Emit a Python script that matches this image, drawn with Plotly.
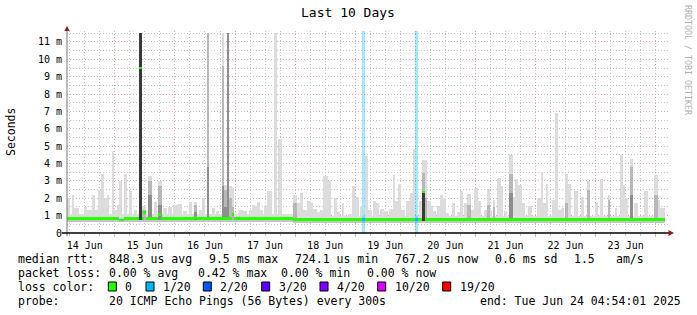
import plotly.graph_objects as go
import pandas as pd

# ---------------- data ----------------
graph_start = pd.Timestamp("2025-06-14 04:54:01")
graph_end = pd.Timestamp("2025-06-24 04:54:01")
y_max_ms = 11.63

# smoke spikes (hours after graph start, values in ms)
spike_start = [0.0, 2.0, 2.8, 6.8, 8.0, 10.0, 11.2, 12.4, 13.6, 14.8, 16.0, 18.0, 18.8, 20.0, 20.8, 22.8, 24.8, 26.8,
               28.8, 30.0, 32.4, 34.8, 36.4, 38.4, 40.4, 42.4, 44.0, 46.4, 48.8, 50.8, 52.8, 54.0, 56.0, 58.0, 59.6,
               61.9, 62.8, 63.9, 64.8, 65.9, 68.4, 70.4, 72.8, 74.0, 75.2, 76.0, 77.2, 78.8, 80.0, 82.8, 84.4,
               90.4, 92.0, 93.2, 94.4, 96.0, 97.2, 98.4, 100.0, 101.2, 102.4, 104.4, 106.8, 108.0, 110.0, 112.4,
               114.0, 115.2, 117.2, 118.8, 120.0, 122.0, 123.2, 124.8, 126.4, 128.4, 130.0, 130.8, 132.0, 133.2,
               135.2, 136.8, 138.0, 140.4, 141.6, 142.8, 143.8, 145.2, 146.0, 147.6, 148.8, 150.0, 151.2, 153.6,
               155.6, 156.8, 158.4, 159.6, 161.2, 162.4, 164.0, 166.4, 167.6, 168.8, 170.0, 171.6, 173.2, 174.4,
               176.4, 178.0, 178.8, 180.0, 181.6, 184.0, 187.6, 189.2, 190.0, 191.2, 193.6, 194.8, 196.0, 197.2,
               198.8, 200.0, 202.4, 205.2, 207.6, 210.8, 212.8, 216.0, 218.8, 220.8, 222.0, 222.8, 224.8, 226.4,
               230.4, 234.4, 236.0, 236.8]
spike_end = [1.0, 2.8, 4.8, 8.0, 10.0, 11.0, 12.4, 13.6, 14.8, 16.0, 16.8, 18.8, 20.0, 20.8, 22.0, 24.0, 26.0, 28.0,
             30.0, 31.6, 34.0, 36.0, 38.0, 40.0, 42.0, 44.0, 46.0, 48.0, 50.0, 52.0, 54.0, 55.2, 56.8, 59.2, 60.8,
             62.8, 63.9, 64.8, 65.9, 66.8, 70.4, 72.0, 74.0, 75.2, 76.0, 77.2, 78.4, 80.0, 82.0, 84.0, 86.0,
             92.0, 93.2, 94.4, 96.0, 97.2, 98.4, 100.0, 101.2, 102.4, 104.4, 105.6, 108.0, 109.2, 110.8, 114.0,
             115.2, 116.8, 118.0, 120.0, 121.6, 123.2, 124.4, 126.4, 128.0, 130.0, 130.8, 132.0, 133.2, 134.8,
             136.8, 138.0, 138.8, 141.6, 142.8, 143.8, 145.2, 146.0, 147.2, 148.8, 150.0, 151.2, 152.4, 154.8,
             156.8, 158.0, 159.6, 161.2, 162.4, 164.0, 165.2, 167.6, 168.8, 169.6, 170.8, 173.2, 174.0, 175.6,
             178.0, 178.8, 180.0, 181.6, 182.8, 185.6, 189.2, 190.0, 191.2, 192.0, 194.8, 196.0, 197.2, 198.4,
             200.0, 201.2, 204.0, 206.4, 208.8, 212.0, 214.0, 216.8, 219.6, 222.0, 222.8, 224.0, 226.0, 228.0,
             232.0, 236.0, 236.8, 238.8]
# outermost (lightest) smoke
spike_max = [2.0, 2.2, 1.45, 1.5, 1.3, 2.2, 1.35, 2.5, 3.37, 2.0, 2.2, 4.7, 1.35, 1.6, 3.0, 3.37, 2.4, 1.35,
             11.5, 1.55, 3.3, 1.8, 3.0, 1.45, 1.5, 1.64, 1.68, 1.25, 1.8, 1.8, 1.35, 2.0, 11.5, 1.45, 1.25,
             11.5, 2.74, 11.5, 2.7, 2.6, 1.34, 1.25, 1.33, 1.62, 1.53, 1.76, 1.33, 1.53, 2.43, 11.5, 5.4,
             2.2, 1.7, 2.3, 1.3, 1.85, 1.75, 1.4, 1.2, 1.33, 3.3, 2.97, 2.0, 1.2, 1.75, 1.1,
             2.68, 2.1, 1.5, 4.44, 1.33, 1.87, 1.7, 1.4, 1.25, 1.4, 3.35, 1.83, 2.85, 1.3,
             1.83, 2.3, 4.85, 1.83, 4.2, 4.2, 1.83, 1.53, 1.25, 1.53, 2.2, 2.0, 1.15, 1.7,
             1.2, 2.4, 1.75, 2.25, 1.3, 2.58, 1.83, 1.3, 2.53, 1.33, 1.92, 3.15, 2.68, 1.25,
             4.5, 2.1, 3.1, 2.78, 1.7, 1.56, 2.0, 3.5, 1.7, 2.85, 1.92, 6.9, 1.33, 1.45,
             3.37, 2.85, 2.4, 2.1, 3.0, 1.7, 3.1, 2.2, 1.45, 4.5, 2.75, 2.0, 4.27, 1.7,
             2.4, 3.35, 1.9, 1.45]
# inner smoke levels (0 = none)
spike_mid = [0, 0, 0, 0, 0, 0, 0, 0, 0, 0, 0, 0, 0, 0, 0, 0, 0, 0,
             0, 1.3, 3.0, 0, 2.7, 0, 0, 0, 0, 0, 0, 1.6, 0, 0, 11.5, 0, 0,
             9.6, 2.5, 11.5, 2.0, 1.5, 0, 0, 0, 0, 0, 0, 0, 0, 0, 0, 0,
             1.7, 0, 0, 0, 0, 0, 0, 0, 0, 0, 0, 0, 0, 0, 0,
             0, 0, 0, 0, 0, 0, 0, 0, 0, 0, 0, 0, 0, 0,
             0, 0, 0, 0, 3.44, 2.0, 0, 0, 0, 0, 0, 0, 0, 0,
             0, 0, 0, 1.6, 0, 0, 0, 0, 1.6, 0, 1.5, 0, 0, 0,
             3.4, 0, 0, 0, 0, 0, 0, 0, 0, 0, 0, 0, 0, 0,
             1.75, 0, 0, 0, 2.5, 0, 0, 1.9, 0, 0, 0, 0, 3.8, 0,
             0, 2.2, 0, 0]
spike_low = [0, 0, 0, 0, 0, 0, 0, 0, 0, 0, 0, 0, 0, 0, 0, 0, 0, 0,
             0, 0, 2.2, 0, 1.6, 0, 0, 0, 0, 0, 0, 1.2, 0, 0, 3.8, 0, 0,
             2.7, 1.5, 11.5, 0, 0, 0, 0, 0, 0, 0, 0, 0, 0, 0, 0, 0,
             0, 0, 0, 0, 0, 0, 0, 0, 0, 0, 0, 0, 0, 0, 0,
             0, 0, 0, 0, 0, 0, 0, 0, 0, 0, 0, 0, 0, 0,
             0, 0, 0, 0, 0, 0, 0, 0, 0, 0, 0, 0, 0, 0,
             0, 0, 0, 0, 0, 0, 0, 0, 0, 0, 0, 0, 0, 0,
             2.3, 0, 0, 0, 0, 0, 0, 0, 0, 0, 0, 0, 0, 0,
             0, 0, 0, 0, 0, 0, 0, 0, 0, 0, 0, 0, 2.2, 0,
             0, 0, 0, 0]
spike_core = [0, 0, 0, 0, 0, 0, 0, 0, 0, 0, 0, 0, 0, 0, 0, 0, 0, 0,
              11.5, 0, 0, 0, 0, 0, 0, 0, 0, 0, 0, 0, 0, 0, 0, 0, 0,
              0, 0, 0, 0, 0, 0, 0, 0, 0, 0, 0, 0, 0, 0, 0, 0,
              0, 0, 0, 0, 0, 0, 0, 0, 0, 0, 0, 0, 0, 0, 0,
              0, 0, 0, 0, 0, 0, 0, 0, 0, 0, 0, 0, 0, 0,
              0, 0, 0, 0, 2.43, 0, 0, 0, 0, 0, 0, 0, 0, 0,
              0, 0, 0, 0, 0, 0, 0, 0, 0, 0, 0, 0, 0, 0,
              0, 0, 0, 0, 0, 0, 0, 0, 0, 0, 0, 0, 0, 0,
              0, 0, 0, 0, 0, 0, 0, 0, 0, 0, 0, 0, 0, 0,
              0, 0, 0, 0]
assert len(set(map(len, [spike_start, spike_end, spike_max, spike_mid, spike_low, spike_core]))) == 1

# smoke floor band
band_start = [0.0, 90.4]
band_end = [90.4, 238.8]
band_lo = [0.66, 0.62]
band_hi = [1.08, 1.00]
inner_lo = [0.68, 0.62]
inner_hi = [0.76, 0.70]

# median rtt segments and loss count (of 20)
med_start = [0.0, 20.8, 22.8, 28.8, 30.0, 30.4, 31.6, 36.4, 37.6, 50.8, 52.0, 65.9, 66.8, 90.4, 118.0, 118.8,
             138.8, 140.0, 141.6, 142.8]
med_end = [20.8, 22.8, 28.8, 30.0, 30.4, 31.6, 36.4, 37.6, 50.8, 52.0, 65.9, 66.8, 90.4, 118.0, 118.8, 138.8,
           140.0, 141.6, 142.8, 238.8]
med_val = [0.82, 0.75, 0.82, 9.5, 0.82, 1.18, 0.82, 1.05, 0.82, 0.92, 0.82, 1.06, 0.84, 0.76, 0.76, 0.76,
           0.76, 0.76, 2.36, 0.76]
med_loss = [0, 0, 0, 0, 0, 0, 0, 0, 0, 0, 0, 0, 0, 0, 1, 0, 1, 0, 0, 0]

# loss events
loss_start = [118.0, 138.8]
loss_end = [118.8, 140.0]
loss_count = [1, 1]

loss_levels = [0, 1, 2, 3, 4, 10, 19]
loss_labels = ["0", "1/20", "2/20", "3/20", "4/20", "10/20", "19/20"]
loss_colors = ["#26ff00", "#00b8ff", "#0059ff", "#5e00ff", "#7e00ff", "#dd00ff", "#ff0000"]

y_ticks = list(range(0, 12))
y_ticktext = ["0"] + [f"{v} m" for v in range(1, 12)]

stats_rtt = ["median rtt:", "848.3 us avg", "9.5 ms max", "724.1 us min", "767.2 us now", "0.6 ms sd", "1.5", "am/s"]
stats_loss = ["packet loss:", "0.00 % avg", "0.42 % max", "0.00 % min", "0.00 % now"]
probe_text = ["probe:", "20 ICMP Echo Pings (56 Bytes) every 300s", "end: Tue Jun 24 04:54:01 2025"]

# ---------------- figure ----------------
MONO = "DejaVu Sans Mono"
color_of = dict(zip(loss_levels, loss_colors))


def tx(h):
    return graph_start + pd.Timedelta(hours=h)


def bars(starts, ends, lows, highs, color):
    xs, ws, bs, ys = [], [], [], []
    for s, e, lo, hi in zip(starts, ends, lows, highs):
        if hi <= 0:
            continue
        xs.append(tx((s + e) / 2))
        ws.append((e - s) * 3600 * 1000)
        bs.append(lo)
        ys.append(hi - lo)
    return go.Bar(x=xs, y=ys, base=bs, width=ws, marker=dict(color=color, line=dict(width=0)),
                  hoverinfo="skip", showlegend=False)


fig = go.Figure()
floor = min(band_lo)
n = len(spike_max)
fig.add_trace(bars(band_start, band_end, band_lo, band_hi, "#dedede"))
fig.add_trace(bars(spike_start, spike_end, [floor] * n, spike_max, "#dcdcdc"))
fig.add_trace(bars(spike_start, spike_end, [floor] * n, spike_mid, "#b8b8b8"))
fig.add_trace(bars(spike_start, spike_end, [floor] * n, spike_low, "#8e8e8e"))
fig.add_trace(bars(spike_start, spike_end, [floor] * n, spike_core, "#3a3a3a"))
fig.add_trace(bars(band_start, band_end, inner_lo, inner_hi, "#c4c4c4"))
for lvl in sorted(set(loss_count)):
    idx = [i for i, c in enumerate(loss_count) if c == lvl]
    fig.add_trace(bars([loss_start[i] for i in idx], [loss_end[i] for i in idx], [0] * len(idx),
                       [y_max_ms] * len(idx), "rgba(0,184,255,0.35)" if lvl == 1 else color_of[lvl]))
half = 0.085
for lvl in sorted(set(med_loss)):
    idx = [i for i, c in enumerate(med_loss) if c == lvl]
    fig.add_trace(bars([med_start[i] for i in idx], [med_end[i] for i in idx],
                       [med_val[i] - half for i in idx], [med_val[i] + half for i in idx], color_of[lvl]))

L, R, T, B = 67, 668, 31, 233  # plot area in pixels


def px(x):
    return (x - L) / (R - L)


def py(y):
    return (B - y) / (B - T)


MGRID = "#eaa8a8"
GRID = "#c6c6c6"
DOT = "1px,2px"

fig.update_layout(
    width=697, height=315,
    margin=dict(l=L, r=697 - R, t=T, b=315 - B),
    paper_bgcolor="white", plot_bgcolor="white",
    barmode="overlay", bargap=0, showlegend=False,
    xaxis=dict(type="date", range=[graph_start, graph_end], tick0="2025-06-14", dtick=86400000,
               tickformat="%d %b", ticklabelmode="period", showgrid=True, gridcolor=MGRID, griddash=DOT,
               gridwidth=1, zeroline=False, showline=False, ticks="outside", ticklen=3, tickcolor=MGRID,
               tickfont=dict(family=MONO, size=10, color="black"),
               minor=dict(dtick=21600000, tick0="2025-06-14", showgrid=True, gridcolor=GRID, griddash=DOT,
                          ticks="outside", ticklen=2, tickcolor=GRID)),
    yaxis=dict(range=[0, y_max_ms], tickvals=y_ticks, ticktext=y_ticktext, showgrid=True, gridcolor=MGRID,
               griddash=DOT, zeroline=False, showline=False, ticks="", ticklabelstandoff=4,
               tickfont=dict(family=MONO, size=10, color="black"),
               minor=dict(dtick=0.5, tick0=0, showgrid=True, gridcolor=GRID, griddash=DOT)),
)

shapes = []
# axes lines and arrows
shapes.append(dict(type="line", xref="paper", yref="paper", x0=0, x1=0, y0=py(236), y1=py(29),
                   line=dict(color="#777777", width=1)))
shapes.append(dict(type="line", xref="paper", yref="paper", x0=px(62), x1=px(669), y0=0, y1=0,
                   line=dict(color="black", width=1.5)))
shapes.append(dict(type="path", xref="paper", yref="paper",
                   path=f"M {px(64.3)},{py(31)} L {px(69.7)},{py(31)} L {px(67)},{py(26)} Z",
                   fillcolor="#8f1d1d", line=dict(width=0)))
shapes.append(dict(type="path", xref="paper", yref="paper",
                   path=f"M {px(668.5)},{py(230)} L {px(668.5)},{py(236)} L {px(674)},{py(233)} Z",
                   fillcolor="#8f1d1d", line=dict(width=0)))

annotations = []


def text(x, y, s, size=11.5, color="black", anchor="left", angle=0):
    annotations.append(dict(x=px(x), y=py(y), xref="paper", yref="paper", text=s, showarrow=False,
                            xanchor=anchor, yanchor="middle", textangle=angle,
                            font=dict(family=MONO, size=size, color=color)))


text(348, 13, "Last 10 Days", size=13, anchor="center")
text(11, 132, "Seconds", size=11.5, anchor="center", angle=-90)
text(688, 60, "RRDTOOL / TOBI OETIKER", size=8.3, color="#b0b0b0", anchor="center", angle=90)

for s, x in zip(stats_rtt, [16, 107.3, 206.7, 293.3, 393.3, 493.3, 571.7, 614]):
    text(x, 259, s)
for s, x in zip(stats_loss, [16, 107.3, 196, 279.3, 365]):
    text(x, 273, s)
text(16, 287, "loss color:")
box_x = [108.3, 146, 203.3, 261.7, 320, 377.7, 442.7]
for bx, lab, col in zip(box_x, loss_labels, loss_colors):
    shapes.append(dict(type="rect", xref="paper", yref="paper", x0=px(bx), x1=px(bx + 8),
                       y0=py(291), y1=py(282), fillcolor=col, line=dict(color="black", width=1)))
    text(bx + 15, 287, lab)
for s, x in zip(probe_text, [16, 107.3, 478.3]):
    text(x, 301, s)

fig.update_layout(shapes=shapes, annotations=annotations)
fig.write_html("out.html")
